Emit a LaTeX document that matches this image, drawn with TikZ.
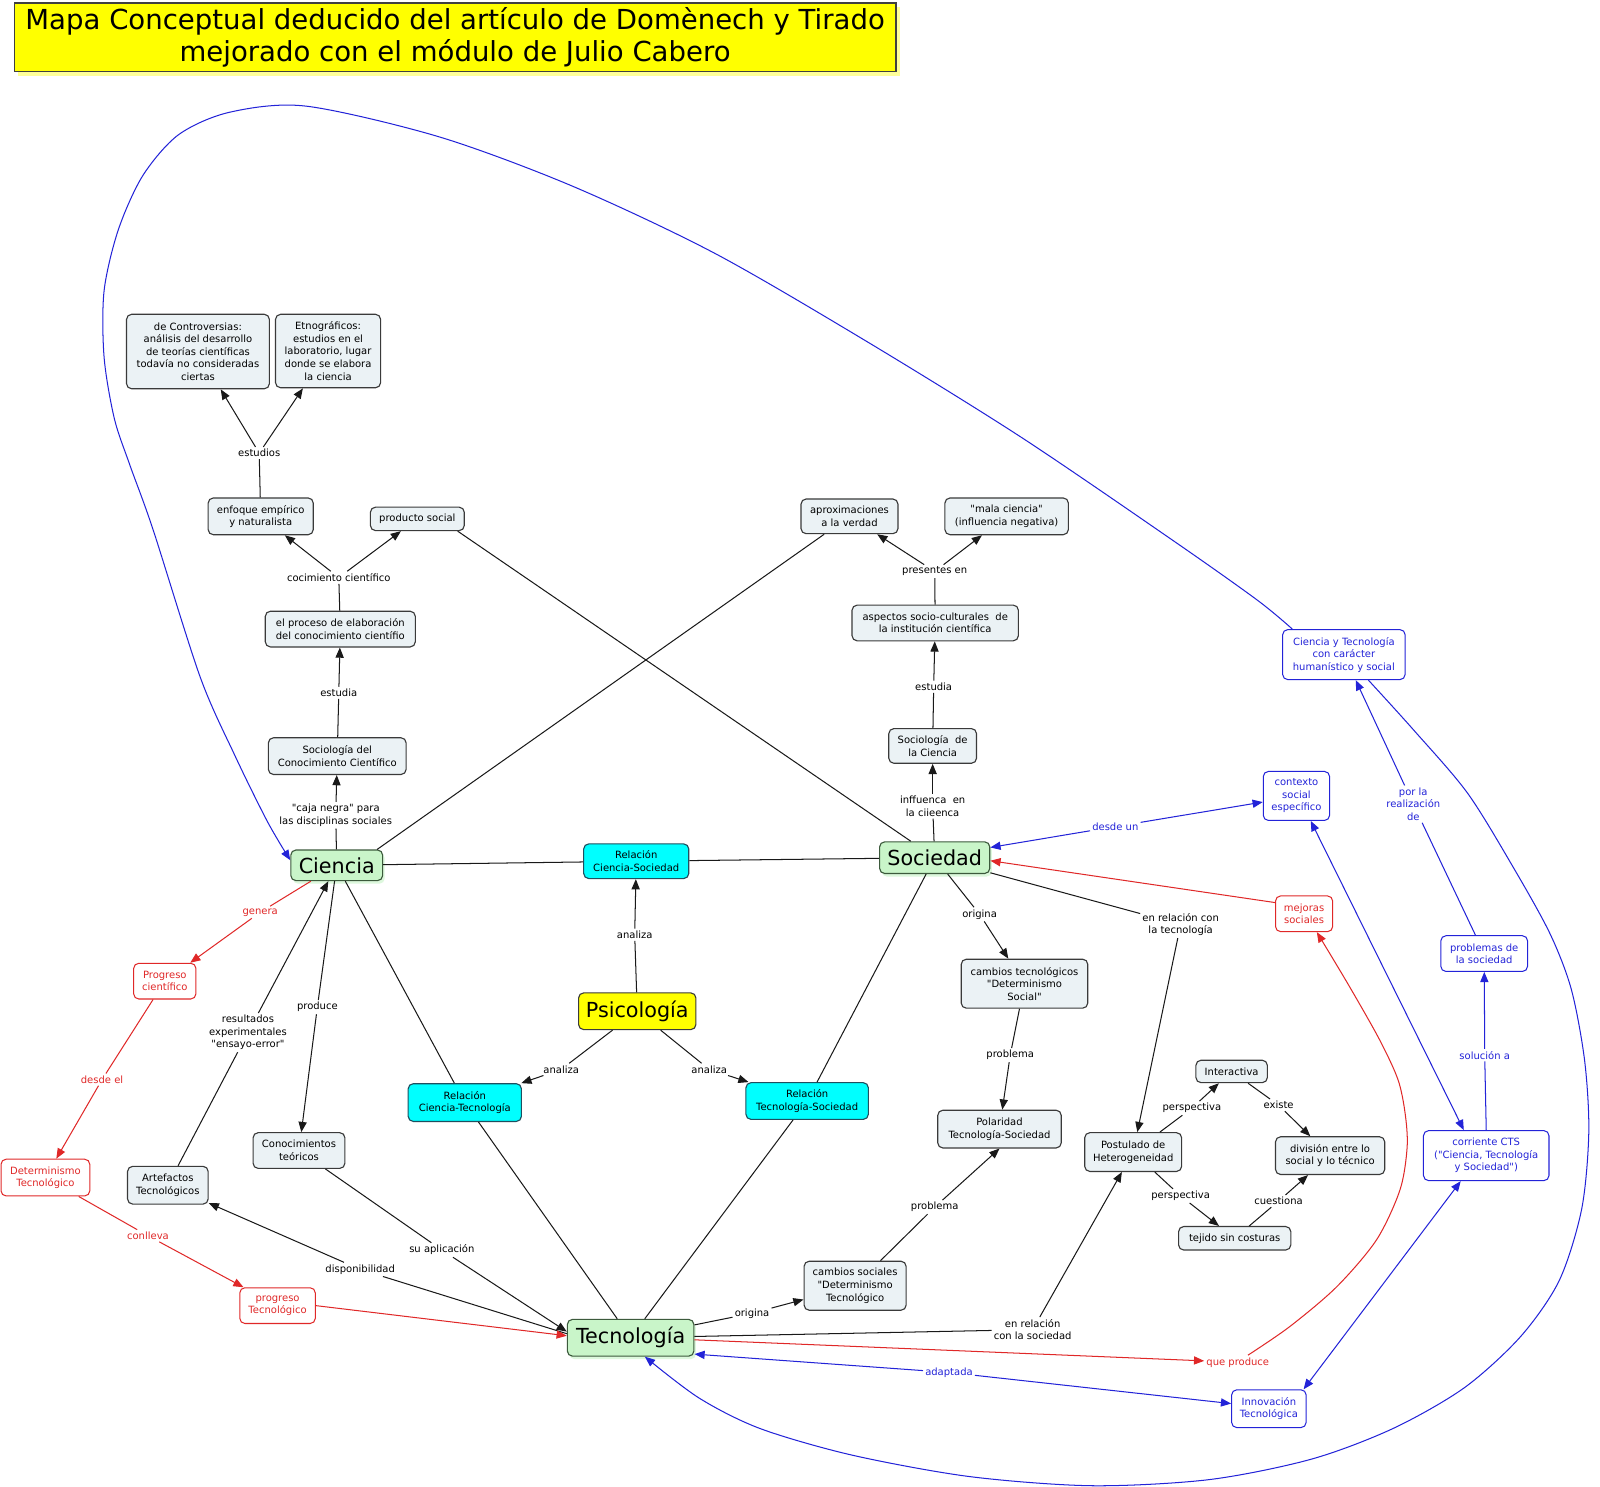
\documentclass[tikz,border=0pt]{standalone}
\usepackage{fontspec}
\setmainfont{DejaVu Sans}[Ligatures=TeXOff]
\usetikzlibrary{arrows.meta,shadows}
\definecolor{ngray}{HTML}{EBF2F5}
\definecolor{nborder}{HTML}{3A3A3A}
\definecolor{gfill}{HTML}{C9F5C9}
\definecolor{gborder}{HTML}{3C5A3C}
\definecolor{gshadow}{HTML}{DDF8DD}
\definecolor{cyfill}{HTML}{00FFFF}
\definecolor{cyborder}{HTML}{1F4F5F}
\definecolor{bcol}{HTML}{2323D8}
\definecolor{rcol}{HTML}{E02828}
\definecolor{tyell}{HTML}{FFFF00}
\definecolor{tshadow}{HTML}{FFFF99}
\begin{document}
\begin{tikzpicture}[x=1pt,y=-1pt,
  base/.style={rounded corners=5pt, line width=1.1pt, align=center, inner sep=2pt,
    font=\fontsize{9.8}{12.3}\selectfont},
  wh/.style 2 args={minimum width=#1pt, minimum height=#2pt},
  cnode/.style={base, draw=nborder, fill=ngray},
  gnode/.style={base, draw=gborder, fill=gfill, font=\fontsize{20.3}{24}\selectfont,
    drop shadow={shadow xshift=2pt, shadow yshift=-3pt, fill=gshadow, opacity=1}},
  cynode/.style={base, draw=cyborder, fill=cyfill},
  ynode/.style={base, draw=nborder, fill=tyell, font=\fontsize{20.3}{24}\selectfont},
  bnode/.style={base, draw=bcol, fill=white, text=bcol, line width=1pt},
  rnode/.style={base, draw=rcol, fill=white, text=rcol, line width=1pt},
  lab/.style={align=center, inner sep=2pt, fill=white, font=\fontsize{9.8}{12.3}\selectfont},
  blab/.style={lab, text=bcol},
  rlab/.style={lab, text=rcol},
  ln/.style={draw=black!90, line width=1pt},
  bl/.style={draw=bcol, line width=1pt},
  rl/.style={draw=rcol, line width=1pt},
  arr/.style={-{Triangle[length=10pt,width=8pt]}},
  arrtwo/.style={{Triangle[length=10pt,width=8pt]}-{Triangle[length=10pt,width=8pt]}},
  titlebox/.style={draw=black!75, line width=1.3pt, fill=tyell, align=center,
    minimum width=864pt, minimum height=67pt, inner sep=0pt,
    font=\fontsize{27}{32}\selectfont,
    drop shadow={shadow xshift=4pt, shadow yshift=-4pt, fill=tshadow, opacity=1}}
]
\useasboundingbox (0,0) rectangle (1568,1457);
\fill[white] (0,0) rectangle (1568,1457);

% title
\node[titlebox] (title) at (446,36.5) {Mapa Conceptual deducido del artículo de Domènech y Tirado\\mejorado con el módulo de Julio Cabero};

% concept nodes
\node[cnode,wh={140}{73}] (controv) at (194,344.5) {de Controversias:\\análisis del desarrollo\\de teorías científicas\\todavía no consideradas\\ciertas};
\node[cnode,wh={103}{72}] (etno) at (321.5,344) {Etnográficos:\\estudios en el\\laboratorio, lugar\\donde se elabora\\la ciencia};
\node[cnode,wh={103}{36}] (enfoque) at (255.5,506) {enfoque empírico\\y naturalista};
\node[cnode,wh={92}{23}] (producto) at (409,508.5) {producto social};
\node[cnode,wh={147}{35}] (proceso) at (333.5,616.5) {el proceso de elaboración\\del conocimiento científio};
\node[cnode,wh={135}{36}] (scc) at (330.5,741) {Sociología del\\Conocimiento Científico};
\node[gnode,wh={90}{30}] (ciencia) at (330,848) {Ciencia};
\node[cynode,wh={103}{34}] (relcs) at (623.5,844) {Relación\\Ciencia-Sociedad};
\node[gnode,wh={108}{31}] (sociedad) at (916,840.5) {Sociedad};
\node[cnode,wh={95}{34}] (aprox) at (832.5,506) {aproximaciones\\a la verdad};
\node[cnode,wh={121}{36}] (mala) at (986.5,506) {"mala ciencia"\\(influencia negativa)};
\node[cnode,wh={163}{35}] (aspectos) at (916.5,610.5) {aspectos socio-culturales\ \ de\\la institución científica};
\node[cnode,wh={86}{34}] (sc) at (914,731) {Sociología\ \ de\\la Ciencia};
\node[bnode,wh={120}{49}] (cyt) at (1317,641.5) {Ciencia y Tecnología\\con carácter\\humanístico y social};
\node[bnode,wh={65}{48}] (contexto) at (1270.5,780) {contexto\\social\\específico};
\node[rnode,wh={56}{35}] (mejoras) at (1278,895.5) {mejoras\\sociales};
\node[bnode,wh={85}{35}] (problemas) at (1454.5,934.5) {problemas de\\la sociedad};
\node[bnode,wh={123}{49}] (cts) at (1456.5,1132.5) {corriente CTS\\("Ciencia, Tecnología\\y Sociedad")};
\node[cnode,wh={124}{48}] (cambiost) at (1004,964) {cambios tecnológicos\\"Determinismo\\Social"};
\node[cnode,wh={121}{37}] (polaridad) at (979.5,1106.5) {Polaridad\\Tecnología-Sociedad};
\node[cnode,wh={70}{22}] (interactiva) at (1207,1050) {Interactiva};
\node[cnode,wh={95}{38}] (postulado) at (1110.5,1129) {Postulado de\\Heterogeneidad};
\node[cnode,wh={107}{37}] (division) at (1303.5,1132.5) {división entre lo\\social y lo técnico};
\node[cnode,wh={110}{23}] (tejido) at (1210,1213.5) {tejido sin costuras};
\node[ynode,wh={115}{36}] (psico) at (624.5,991) {Psicología};
\node[cynode,wh={111}{37}] (relct) at (455.5,1080.5) {Relación\\Ciencia-Tecnología};
\node[cynode,wh={120}{36}] (relts) at (791,1079) {Relación\\Tecnología-Sociedad};
\node[rnode,wh={61}{35}] (progreso) at (161.5,961.5) {Progreso\\científico};
\node[rnode,wh={87}{36}] (determ) at (44.5,1154) {Determinismo\\Tecnológico};
\node[rnode,wh={74}{35}] (progresot) at (272,1279.5) {progreso\\Tecnológico};
\node[cnode,wh={90}{35}] (conteo) at (293,1127.5) {Conocimientos\\teóricos};
\node[cnode,wh={79}{37}] (artefactos) at (164.5,1161.5) {Artefactos\\Tecnológicos};
\node[gnode,wh={124}{36}] (tecnologia) at (618,1311) {Tecnología};
\node[cnode,wh={100}{48}] (cambioss) at (838,1260) {cambios sociales\\"Determinismo\\Tecnológico};
\node[bnode,wh={73}{37}] (innovacion) at (1243.5,1380.5) {Innovación\\Tecnológica};

% linking phrases
\node[lab] (l_estudios) at (254,444) {estudios};
\node[lab] (l_cocim) at (332,566) {cocimiento científico};
\node[lab] (l_estudia1) at (332,679) {estudia};
\node[lab] (l_caja) at (329,799) {"caja negra" para\\las disciplinas sociales};
\node[lab] (l_presentes) at (916,560) {presentes en};
\node[lab] (l_estudia2) at (915,673) {estudia};
\node[lab] (l_inff) at (914,790) {inffuenca\ \ en\\la ciieenca};
\node[blab] (l_desdeun) at (1093,810) {desde un};
\node[blab] (l_porla) at (1385,788) {por la\\realización\\de};
\node[blab] (l_solucion) at (1455,1034) {solución a};
\node[lab] (l_enrelT) at (1157,906) {en relación con\\la tecnología};
\node[lab] (l_origina1) at (960,896) {origina};
\node[lab] (l_problema1) at (990,1034) {problema};
\node[lab] (l_persp1) at (1168,1086) {perspectiva};
\node[lab] (l_existe) at (1253,1083) {existe};
\node[lab] (l_persp2) at (1157,1172) {perspectiva};
\node[lab] (l_cuestiona) at (1253,1177) {cuestiona};
\node[lab] (l_analiza0) at (622,916) {analiza};
\node[lab] (l_analiza1) at (550,1048) {analiza};
\node[lab] (l_analiza2) at (695,1048) {analiza};
\node[rlab] (l_genera) at (255,894) {genera};
\node[rlab] (l_desdeel) at (100,1058) {desde el};
\node[rlab] (l_conlleva) at (145,1211) {conlleva};
\node[lab] (l_result) at (243,1012) {resultados\\experimentales\\"ensayo-error"};
\node[lab] (l_produce) at (311,987) {produce};
\node[lab] (l_suapl) at (433,1225) {su aplicación};
\node[lab] (l_dispon) at (353,1244) {disponibilidad};
\node[lab] (l_origina2) at (737,1287) {origina};
\node[lab] (l_problema2) at (916,1183) {problema};
\node[lab] (l_enrelS) at (1012,1303) {en relación\\con la sociedad};
\node[rlab] (l_queproduce) at (1213,1335) {que produce};
\node[blab] (l_adaptada) at (930,1345) {adaptada};

% black connectors
\draw[ln] (enfoque) -- (l_estudios);
\draw[ln,arr] (l_estudios) -- (controv);
\draw[ln,arr] (l_estudios) -- (etno);
\draw[ln] (proceso) -- (l_cocim);
\draw[ln,arr] (l_cocim) -- (enfoque);
\draw[ln,arr] (l_cocim) -- (producto);
\draw[ln] (scc) -- (l_estudia1);
\draw[ln,arr] (l_estudia1) -- (proceso);
\draw[ln] (ciencia) -- (l_caja);
\draw[ln,arr] (l_caja) -- (scc);
\draw[ln] ([xshift=-6pt]ciencia.north east) -- (aprox);
\draw[ln] ([xshift=-7pt]producto.south east) -- (sociedad);
\draw[ln] (ciencia) -- (relcs);
\draw[ln] (relcs) -- (sociedad);
\draw[ln] (psico) -- (l_analiza0);
\draw[ln,arr] (l_analiza0) -- (relcs);
\draw[ln] (psico) -- (l_analiza1);
\draw[ln,arr] (l_analiza1) -- (relct);
\draw[ln] (psico) -- (l_analiza2);
\draw[ln,arr] (l_analiza2) -- (relts);
\draw[ln] (ciencia) -- (relct);
\draw[ln] (relct) -- (tecnologia);
\draw[ln] (sociedad) -- (relts);
\draw[ln] (relts) -- (tecnologia);
\draw[ln] (sociedad) -- (l_inff);
\draw[ln,arr] (l_inff) -- (sc);
\draw[ln] (sc) -- (l_estudia2);
\draw[ln,arr] (l_estudia2) -- (aspectos);
\draw[ln] (aspectos) -- (l_presentes);
\draw[ln,arr] (l_presentes) -- (aprox);
\draw[ln,arr] (l_presentes) -- (mala);
\draw[ln] (sociedad) -- (l_origina1);
\draw[ln,arr] (l_origina1) -- (cambiost);
\draw[ln] (cambiost) -- (l_problema1);
\draw[ln,arr] (l_problema1) -- (polaridad);
\draw[ln] (tecnologia) -- (l_origina2);
\draw[ln,arr] (l_origina2) -- (cambioss);
\draw[ln] (cambioss) -- (l_problema2);
\draw[ln,arr] (l_problema2) -- (polaridad.south);
\draw[ln] (sociedad) -- (l_enrelT);
\draw[ln,arr] (l_enrelT) -- (postulado);
\draw[ln] (tecnologia) -- (l_enrelS);
\draw[ln,arr] (l_enrelS) -- (postulado);
\draw[ln] (postulado) -- (l_persp1);
\draw[ln,arr] (l_persp1) -- (interactiva);
\draw[ln] (postulado) -- (l_persp2);
\draw[ln,arr] (l_persp2) -- (tejido);
\draw[ln] (interactiva) -- (l_existe);
\draw[ln,arr] (l_existe) -- (division);
\draw[ln] (tejido) -- (l_cuestiona);
\draw[ln,arr] (l_cuestiona) -- (division);
\draw[ln] (ciencia) -- (l_produce);
\draw[ln,arr] (l_produce) -- (conteo);
\draw[ln] (artefactos) -- (l_result);
\draw[ln,arr] (l_result) -- (ciencia);
\draw[ln] (conteo) -- (l_suapl);
\draw[ln,arr] (l_suapl) -- ([yshift=6pt]tecnologia.west);
\draw[ln] ([yshift=4pt]tecnologia.west) -- (l_dispon);
\draw[ln,arr] (l_dispon) -- (artefactos);

% red connectors
\draw[rl] (ciencia) -- (l_genera);
\draw[rl,arr] (l_genera) -- (progreso);
\draw[rl] (progreso) -- (l_desdeel);
\draw[rl,arr] (l_desdeel) -- (determ);
\draw[rl] (determ) -- (l_conlleva);
\draw[rl,arr] (l_conlleva) -- (progresot);
\draw[rl,arr] (progresot.east) -- ([yshift=2pt]tecnologia.west);
\draw[rl,arr] ([yshift=-2pt]tecnologia.east) -- (l_queproduce);
\draw[rl,arr] plot[smooth] coordinates {([xshift=10pt]l_queproduce.north) (1264,1300) (1310,1261) (1349,1215) (1372,1166) (1379,1124) (1377,1091) (1370,1058) (1352,1019) (1322,966) ([xshift=-16pt]mejoras.south east)};
\draw[rl,arr] ([yshift=11pt]mejoras.west) -- ([yshift=-3pt]sociedad.east);

% blue connectors
\draw[bl,arr] (l_desdeun) -- ([yshift=10pt]sociedad.east);
\draw[bl,arr] (l_desdeun) -- ([yshift=-6pt]contexto.west);
\draw[bl,arrtwo] ([xshift=14pt]contexto.south) -- ([xshift=-22pt]cts.north);
\draw[bl] (cts.north) -- (l_solucion);
\draw[bl,arr] (l_solucion) -- (problemas);
\draw[bl] (problemas) -- (l_porla);
\draw[bl,arr] (l_porla) -- (cyt);
\draw[bl,arrtwo] ([xshift=-25pt]cts.south) -- ([xshift=-3pt]innovacion.north east);
\draw[bl,arr] (l_adaptada) -- ([yshift=-16pt]tecnologia.east);
\draw[bl,arr] (l_adaptada) -- ([yshift=5pt]innovacion.west);
\draw[bl,arr] plot[smooth] coordinates {([xshift=10pt]cyt.north west) (1232,588) (1150,530) (1000,428) (850,335) (700,248) (560,182) (430,134) (300,104) (225,110) (175,132) (140,172) (116,225) (102,285) (102,350) (112,410) (127,455) (150,519) (196,663) (230,740) (262,805) ([yshift=5pt]ciencia.west)};
\draw[bl,arr] plot[smooth] coordinates {([xshift=24pt]cyt.south) (1385,715) (1438,777) (1483,850) (1519,915) (1540,970) (1553,1040) (1557,1110) (1550,1185) (1528,1255) (1490,1310) (1435,1360) (1365,1400) (1285,1430) (1185,1450) (1070,1456) (950,1447) (835,1426) (745,1400) (685,1370) ([xshift=14pt]tecnologia.south)};
\end{tikzpicture}
\end{document}
